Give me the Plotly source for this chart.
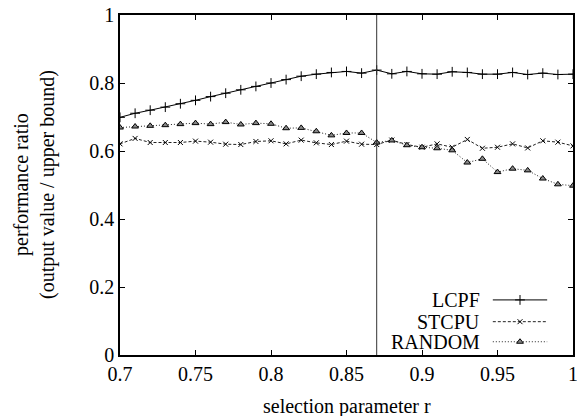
import plotly.graph_objects as go

r = [round(0.70 + 0.01 * i, 2) for i in range(31)]

lcpf = [0.699, 0.711, 0.720, 0.729, 0.739, 0.749, 0.760, 0.770, 0.780, 0.790,
        0.800, 0.810, 0.820, 0.826, 0.831, 0.834, 0.829, 0.838, 0.827, 0.834,
        0.827, 0.826, 0.833, 0.831, 0.826, 0.826, 0.831, 0.825, 0.829, 0.825, 0.826]

stcpu = [0.621, 0.637, 0.625, 0.625, 0.625, 0.629, 0.626, 0.620, 0.619, 0.628,
         0.630, 0.621, 0.632, 0.624, 0.619, 0.629, 0.620, 0.619, 0.632, 0.619,
         0.611, 0.621, 0.611, 0.634, 0.608, 0.611, 0.621, 0.609, 0.630, 0.626, 0.615]

random_ = [0.669, 0.672, 0.674, 0.676, 0.679, 0.682, 0.679, 0.685, 0.678, 0.682,
           0.680, 0.667, 0.668, 0.658, 0.646, 0.653, 0.653, 0.625, 0.631, 0.617,
           0.611, 0.608, 0.602, 0.566, 0.577, 0.538, 0.548, 0.543, 0.519, 0.502, 0.498]

marker_r = 0.87

series_names = ["LCPF", "STCPU", "RANDOM"]
x_ticks = [0.7, 0.75, 0.8, 0.85, 0.9, 0.95, 1.0]
x_ticktext = ["0.7", "0.75", "0.8", "0.85", "0.9", "0.95", "1"]
y_ticks = [0, 0.2, 0.4, 0.6, 0.8, 1.0]
y_ticktext = ["0", "0.2", "0.4", "0.6", "0.8", "1"]

FONT = "Liberation Serif"
INK = "#000000"
FS = 20

styles = [
    dict(line=dict(color=INK, width=1, dash="solid"),
         marker=dict(symbol="cross-thin", size=7, line=dict(color=INK, width=1))),
    dict(line=dict(color="#222222", width=1, dash="3px,2px"),
         marker=dict(symbol="x-thin", size=5, line=dict(color=INK, width=1))),
    dict(line=dict(color="#222222", width=1, dash="1px,2px"),
         marker=dict(symbol="triangle-up", size=6, color="#888888",
                     line=dict(color=INK, width=1))),
]

fig = go.Figure()

# vertical marker line
fig.add_shape(type="line", xref="x", yref="y", x0=marker_r, x1=marker_r,
              y0=0, y1=1, line=dict(color="#333333", width=1))

for name, vals, st in zip(series_names, [lcpf, stcpu, random_], styles):
    fig.add_trace(go.Scatter(x=r, y=vals, mode="lines+markers", name=name,
                             line=st["line"], marker=st["marker"],
                             showlegend=False, xaxis="x", yaxis="y"))

# manual legend (text right-aligned, sample on the right), on overlay axes
leg_y = [0.162, 0.098, 0.039]
for name, ly, st in zip(series_names, leg_y, styles):
    fig.add_annotation(xref="x2", yref="y2", x=0.80, y=ly, text=name,
                       showarrow=False, xanchor="right", yanchor="middle",
                       font=dict(family=FONT, size=FS, color=INK))
    fig.add_trace(go.Scatter(x=[0.823, 0.943], y=[ly, ly], mode="lines",
                             line=st["line"], showlegend=False, hoverinfo="skip",
                             xaxis="x2", yaxis="y2"))
    fig.add_trace(go.Scatter(x=[0.883], y=[ly], mode="markers",
                             marker=st["marker"], showlegend=False, hoverinfo="skip",
                             xaxis="x2", yaxis="y2"))

# axis titles as annotations (plot area: 453 x 340 px)
fig.add_annotation(xref="paper", yref="paper", x=0.5, y=-52 / 340,
                   text="selection parameter r", showarrow=False,
                   xanchor="center", yanchor="middle",
                   font=dict(family=FONT, size=FS, color=INK))
fig.add_annotation(xref="paper", yref="paper", x=-86 / 453, y=0.5,
                   text="performance ratio<br>(output value / upper bound)",
                   showarrow=False, textangle=-90,
                   xanchor="center", yanchor="middle",
                   font=dict(family=FONT, size=FS, color=INK))

axis_common = dict(showgrid=False, zeroline=False, showline=True, linecolor=INK,
                   linewidth=1.5, mirror="ticks", ticks="inside", ticklen=5,
                   tickcolor=INK, tickwidth=1, automargin=False,
                   ticklabeloverflow="allow",
                   tickfont=dict(family=FONT, size=FS, color=INK))

fig.update_layout(
    width=577, height=416,
    margin=dict(l=120, r=4, t=15, b=61),
    paper_bgcolor="white", plot_bgcolor="white",
    xaxis=dict(range=[0.7, 1.0], tickvals=x_ticks, ticktext=x_ticktext,
               **axis_common),
    yaxis=dict(range=[0, 1], tickvals=y_ticks, ticktext=y_ticktext,
               **axis_common),
    xaxis2=dict(overlaying="x", range=[0, 1], visible=False),
    yaxis2=dict(overlaying="y", range=[0, 1], visible=False),
    showlegend=False,
)

fig.write_html("out.html",
               config={"displayModeBar": False},
               post_script="document.body.style.margin='0';"
                           "document.body.style.overflow='hidden';")
